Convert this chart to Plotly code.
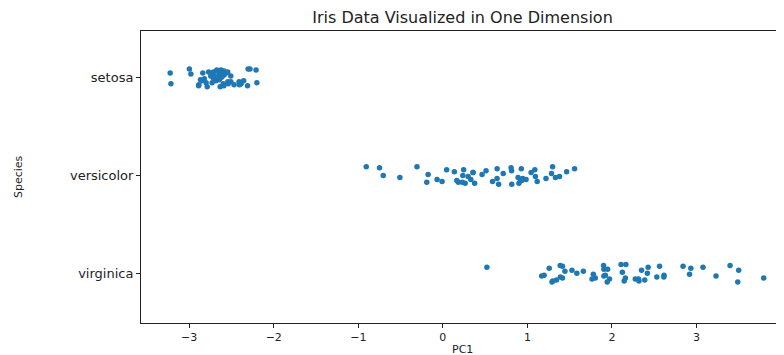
import plotly.graph_objects as go

species = ["setosa", "versicolor", "virginica"]

setosa_pc1 = [-2.684, -2.714, -2.889, -2.745, -2.729, -2.281, -2.821, -2.626, -2.886, -2.673,
              -2.507, -2.613, -2.787, -3.225, -2.644, -2.386, -2.623, -2.648, -2.200, -2.588,
              -2.310, -2.544, -3.216, -2.303, -2.356, -2.508, -2.469, -2.562, -2.640, -2.633,
              -2.588, -2.410, -2.648, -2.597, -2.673, -2.867, -2.625, -2.800, -2.980, -2.590,
              -2.770, -2.853, -2.998, -2.406, -2.209, -2.715, -2.538, -2.839, -2.543, -2.704]
versicolor_pc1 = [1.285, 0.932, 1.464, 0.183, 1.088, 0.641, 1.095, -0.749, 1.044, -0.009,
                  -0.508, 0.511, 0.264, 0.984, -0.174, 0.928, 0.660, 0.236, 0.944, 0.045,
                  1.116, 0.357, 1.298, 0.921, 0.714, 0.900, 1.332, 1.558, 0.813, -0.306,
                  -0.068, -0.190, 0.136, 1.380, 0.588, 0.807, 1.220, 0.815, 0.246, 0.165,
                  0.464, 0.890, 0.230, -0.705, 0.357, 0.331, 0.376, 0.642, -0.906, 0.299]
virginica_pc1 = [2.531, 1.415, 2.616, 1.971, 2.350, 3.397, 0.521, 2.933, 2.320, 2.918,
                 1.662, 1.803, 2.165, 1.344, 1.585, 1.905, 1.949, 3.488, 3.795, 1.300,
                 2.428, 1.198, 3.499, 1.388, 2.276, 2.614, 1.258, 1.291, 2.123, 2.388,
                 2.841, 3.231, 2.159, 1.444, 1.780, 3.077, 2.145, 1.905, 1.169, 2.108,
                 2.314, 1.922, 1.415, 2.563, 2.419, 1.944, 1.527, 1.764, 1.901, 1.390]

# strip-plot jitter offsets (in category units)
setosa_jit = [0.03, -0.06, 0.08, -0.02, 0.05, -0.09, 0.01, -0.04, 0.07, -0.07,
              0.04, -0.01, 0.09, -0.05, 0.02, 0.06, -0.08, 0.00, 0.05, -0.03,
              0.08, -0.06, 0.06, -0.09, 0.03, -0.02, 0.07, -0.05, 0.01, 0.09,
              -0.07, 0.04, -0.03, 0.06, -0.08, 0.02, -0.01, 0.05, -0.04, 0.08,
              -0.06, 0.03, -0.09, 0.07, -0.08, 0.00, 0.06, -0.05, 0.04, -0.02]
versicolor_jit = [-0.02, 0.05, -0.04, 0.07, -0.06, 0.03, 0.01, -0.08, -0.03, 0.06,
                  0.02, -0.05, 0.08, 0.04, -0.01, -0.07, 0.09, 0.00, 0.03, -0.06,
                  0.06, -0.03, -0.09, 0.05, -0.02, 0.08, 0.02, -0.07, -0.05, -0.09,
                  0.04, 0.07, -0.04, 0.01, 0.06, -0.08, 0.03, 0.09, -0.06, 0.05,
                  -0.01, 0.02, 0.07, 0.00, -0.03, 0.04, 0.08, -0.07, -0.09, 0.01]
virginica_jit = [0.04, -0.07, 0.02, 0.06, -0.03, -0.08, -0.06, -0.05, 0.08, 0.01,
                 -0.02, 0.05, -0.09, 0.07, 0.00, 0.03, -0.04, 0.09, 0.05, 0.08,
                 -0.06, 0.02, -0.03, -0.08, 0.06, 0.04, -0.05, 0.09, -0.01, 0.07,
                 -0.07, 0.03, 0.05, -0.02, 0.01, -0.06, 0.08, -0.04, 0.03, -0.09,
                 0.06, 0.02, 0.05, -0.07, 0.00, 0.09, -0.03, 0.06, -0.08, 0.04]

xs = setosa_pc1 + versicolor_pc1 + virginica_pc1
ys = ([0 + j for j in setosa_jit] + [1 + j for j in versicolor_jit]
      + [2 + j for j in virginica_jit])

fig = go.Figure(go.Scatter(
    x=xs, y=ys, mode="markers",
    marker=dict(color="#1f77b4", size=5.5, line=dict(width=0)),
    showlegend=False,
))

font = "DejaVu Sans, sans-serif"
# the page body adds an 8px offset; sizes below compensate for it
fig.update_layout(
    width=776, height=347,
    margin=dict(l=133, r=0, t=23, b=32, autoexpand=False),
    paper_bgcolor="white", plot_bgcolor="white",
    font=dict(family=font, color="#222222", size=12),
    title=dict(text="Iris Data Visualized in One Dimension", x=0.5, xref="paper",
               y=1 - 9 / 347, yref="container", yanchor="middle",
               font=dict(size=16, color="#222222", family=font)),
    annotations=[
        dict(text="PC1", xref="paper", yref="paper", x=0.5, y=-26 / 292,
             yanchor="middle", showarrow=False, font=dict(size=11)),
        dict(text="Species", xref="paper", yref="paper", x=-123 / 643, y=0.5,
             xanchor="center", yanchor="middle", textangle=-90, showarrow=False,
             font=dict(size=11)),
    ],
)
fig.update_xaxes(
    range=[-3.57, 4.035], tickvals=[-3, -2, -1, 0, 1, 2, 3, 4],
    ticktext=["\u22123", "\u22122", "\u22121", "0", "1", "2", "3", "4"],
    showgrid=False, zeroline=False, showline=True, linecolor="#222", linewidth=1,
    mirror=True, ticks="outside", ticklen=4, tickcolor="#222",
    tickfont=dict(size=11), automargin=False,
)
fig.update_yaxes(
    range=[2.51, -0.48], tickvals=[0, 1, 2], ticktext=species,
    showgrid=False, zeroline=False, showline=True, linecolor="#222", linewidth=1,
    mirror=True, ticks="outside", ticklen=4, tickcolor="#222",
    tickfont=dict(size=13), automargin=False,
)

fig.write_html("out.html")
